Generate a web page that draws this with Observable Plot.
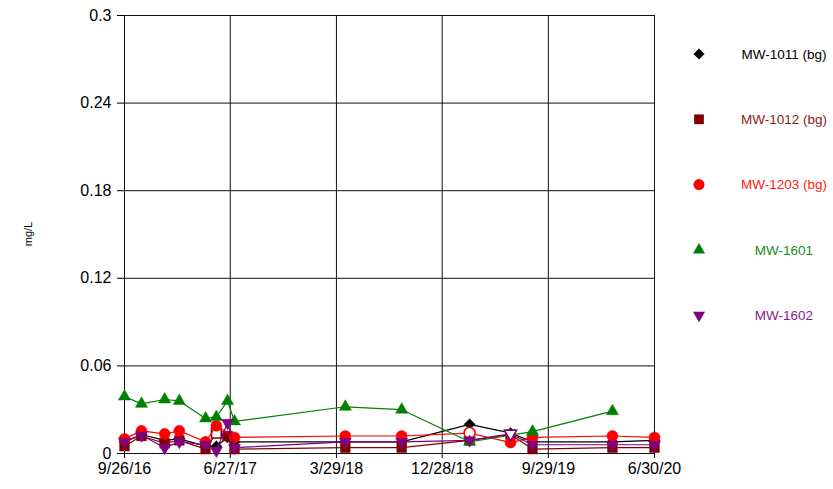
<!DOCTYPE html>
<html><head><meta charset="utf-8">
<script src="https://cdn.jsdelivr.net/npm/d3@7"></script>
<script src="https://cdn.jsdelivr.net/npm/@observablehq/plot@0.6"></script>
<style>body{margin:0;background:#fff;font-family:"Liberation Sans",Arial,sans-serif}</style>
</head><body><div id="chart"></div>
<script>
// Sample dates (shared by all wells)
const sampleDates = ["2016-09-26","2016-11-09","2017-01-08","2017-02-15","2017-04-24","2017-05-22","2017-06-20","2017-07-08","2018-04-21","2018-09-14","2019-03-09","2019-06-23","2019-08-19","2020-03-13","2020-06-30"];
// Concentrations (mg/L); null = not sampled
const mw1011 = [0.008,0.013,0.009,0.010,0.005,0.005,0.011,0.008,0.008,0.008,0.020,0.014,0.008,0.008,0.009];
const mw1012 = [0.005,0.012,0.007,0.009,0.003,0.014,0.012,0.003,0.004,0.004,0.009,0.013,0.003,0.004,0.004];
const mw1203 = [0.010,0.0155,0.0135,0.0155,0.008,0.019,null,0.011,0.012,0.012,0.014,0.0075,0.011,0.012,0.011];
const mw1601 = [0.039,0.034,0.037,0.036,0.024,0.025,0.036,0.022,0.032,0.030,0.008,null,0.015,0.029,null];
const mw1602 = [0.008,0.0125,0.004,0.008,0.006,0.002,0.021,0.004,0.008,0.008,0.009,0.0135,0.006,0.006,0.006];
// Non-detect (open marker) flags by index
const nd1011 = [];
const nd1012 = [5];
const nd1203 = [10];
const nd1601 = [];
const nd1602 = [11];

const seriesNames = ["MW-1011 (bg)","MW-1012 (bg)","MW-1203 (bg)","MW-1601","MW-1602"];
const seriesValues = [mw1011, mw1012, mw1203, mw1601, mw1602];
const seriesND = [nd1011, nd1012, nd1203, nd1601, nd1602];
const seriesColors = ["#000000","#800000","#ff0000","#008000","#800080"];
const textColors = ["#000000","#8b1a1a","#ff2020","#1a8c1a","#8b1a8b"];

const xTickDates = ["2016-09-26","2017-06-27","2018-03-29","2018-12-28","2019-09-29","2020-06-30"];
const yTicks = [0,0.06,0.12,0.18,0.24,0.3];

const downTriangle = {draw(ctx, size){const y=Math.sqrt(size/(Math.sqrt(3)*3)); ctx.moveTo(0,2*y); ctx.lineTo(-Math.sqrt(3)*y,-y); ctx.lineTo(Math.sqrt(3)*y,-y); ctx.closePath();}};
const symbols = ["diamond2","square","circle","triangle",downTriangle];
const radii = [4.95,5.5,5.5,4.5,4.5];

const parse = d3.utcParse("%Y-%m-%d");
const xTicks = xTickDates.map(parse);

const marks = [
  Plot.gridX(xTicks, {stroke:"#111", strokeOpacity:1, strokeWidth:1}),
  Plot.gridY(yTicks, {stroke:"#111", strokeOpacity:1, strokeWidth:1}),
  Plot.axisX(xTicks, {tickFormat: d3.utcFormat("%-m/%-d/%y"), tickSize:5, tickPadding:4, fontSize:16, stroke:"#000", label: null}),
  Plot.axisY(yTicks, {tickSize:7, tickPadding:6, fontSize:16, stroke:"#000", label: null, tickFormat: d => d3.format("")(d)})
];
seriesValues.forEach((vals, i) => {
  const rows = sampleDates.map((d, j) => ({date: parse(d), value: vals[j], nd: seriesND[i].includes(j)})).filter(r => r.value != null);
  marks.push(Plot.line(rows, {x:"date", y:"value", stroke: seriesColors[i], strokeWidth:1.2}));
  marks.push(Plot.dot(rows.filter(r => !r.nd), {x:"date", y:"value", symbol: symbols[i], r: radii[i], fill: seriesColors[i], stroke: seriesColors[i], strokeWidth:0.5}));
  marks.push(Plot.dot(rows.filter(r => r.nd), {x:"date", y:"value", symbol: symbols[i], r: radii[i], fill: "#fff", stroke: seriesColors[i], strokeWidth:1.6}));
});

const chart = Plot.plot({
  width: 833, height: 489,
  marginLeft: 124, marginRight: 179, marginTop: 15, marginBottom: 36,
  style: {fontFamily: "'Liberation Sans', Arial, sans-serif", background: "#fff", color: "#000"},
  x: {type: "utc", domain: [parse("2016-09-26"), parse("2020-06-30")], label: null},
  y: {domain: [0, 0.3], label: null},
  marks
});

// Legend and y label inside the SVG
const svg = d3.select(chart);
svg.append("text").attr("transform","translate(32,234) rotate(-90)").attr("text-anchor","middle")
  .attr("font-size", 11).attr("fill","#000").text("mg/L");
const lg = svg.append("g");
seriesNames.forEach((name, i) => {
  const y = 54 + i * 65.3;
  const size = radii[i] * radii[i] * Math.PI;
  const sym = typeof symbols[i] === "string" ? {diamond2: d3.symbolDiamond2, square: d3.symbolSquare, circle: d3.symbolCircle, triangle: d3.symbolTriangle}[symbols[i]] : symbols[i];
  lg.append("path").attr("transform", `translate(699,${y})`).attr("d", d3.symbol(sym, size)())
    .attr("fill", seriesColors[i]);
  lg.append("text").attr("x", 784).attr("y", y).attr("dy","0.35em").attr("text-anchor","middle")
    .attr("font-size", 13.5).attr("fill", textColors[i]).text(name);
});
document.getElementById("chart").appendChild(chart);
</script>
</body></html>
